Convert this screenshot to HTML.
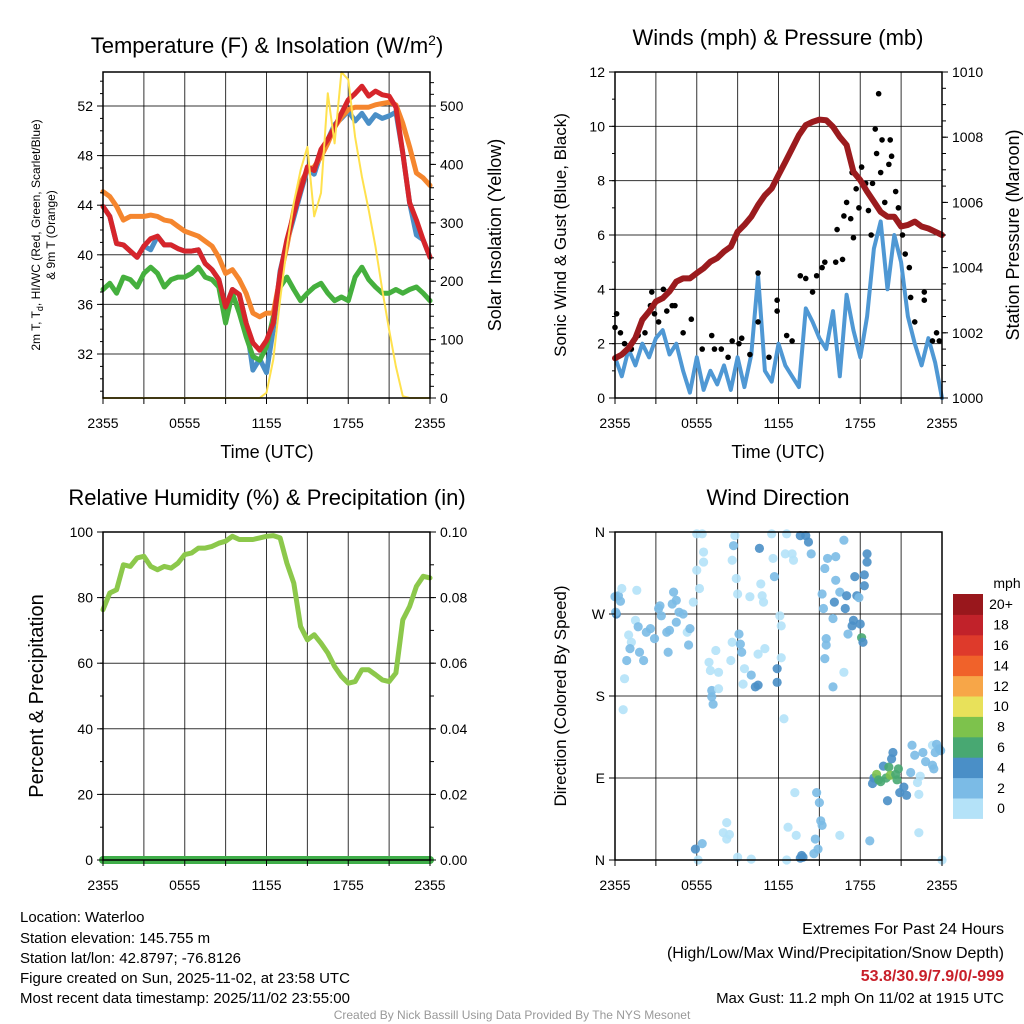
<!DOCTYPE html>
<html><head><meta charset="utf-8"><style>
html,body{margin:0;padding:0;background:#fff;}
svg{display:block;font-family:"Liberation Sans",sans-serif;}
</style></head><body>
<svg id="chart" width="1024" height="1024" viewBox="0 0 1024 1024" xmlns="http://www.w3.org/2000/svg">
<rect width="1024" height="1024" fill="#fff"/>
<g id="layer"></g>
<text x="267" y="53" font-size="22" text-anchor="middle">Temperature (F) &amp; Insolation (W/m<tspan dy="-8" font-size="14">2</tspan><tspan dy="8">)</tspan></text>
<text x="778" y="45" font-size="22" text-anchor="middle">Winds (mph) &amp; Pressure (mb)</text>
<text x="267" y="505" font-size="22" text-anchor="middle">Relative Humidity (%) &amp; Precipitation (in)</text>
<text x="778" y="505" font-size="22" text-anchor="middle">Wind Direction</text>
<text x="267" y="458" font-size="18" text-anchor="middle">Time (UTC)</text>
<text x="778" y="458" font-size="18" text-anchor="middle">Time (UTC)</text>
<text transform="translate(40,235) rotate(-90)" font-size="12" text-anchor="middle">2m T, T<tspan dy="3" font-size="9">d</tspan><tspan dy="-3">, HI/WC (Red, Green, Scarlet/Blue)</tspan></text>
<text transform="translate(55,235) rotate(-90)" font-size="12" text-anchor="middle">&amp; 9m T (Orange)</text>
<text transform="translate(501,235) rotate(-90)" font-size="18" text-anchor="middle">Solar Insolation (Yellow)</text>
<text transform="translate(566,235) rotate(-90)" font-size="17" text-anchor="middle">Sonic Wind &amp; Gust (Blue, Black)</text>
<text transform="translate(1019,235) rotate(-90)" font-size="18" text-anchor="middle">Station Pressure (Maroon)</text>
<text transform="translate(43,696) rotate(-90)" font-size="20" text-anchor="middle">Percent &amp; Precipitation</text>
<text transform="translate(566,696) rotate(-90)" font-size="17" text-anchor="middle">Direction (Colored By Speed)</text>
<g font-size="15">
<text x="20" y="922">Location: Waterloo</text>
<text x="20" y="943">Station elevation: 145.755 m</text>
<text x="20" y="963">Station lat/lon: 42.8797; -76.8126</text>
<text x="20" y="983">Figure created on Sun, 2025-11-02, at 23:58 UTC</text>
<text x="20" y="1003">Most recent data timestamp: 2025/11/02 23:55:00</text>
</g>
<g text-anchor="end">
<text x="1004" y="934" font-size="16">Extremes For Past 24 Hours</text>
<text x="1004" y="958" font-size="16">(High/Low/Max Wind/Precipitation/Snow Depth)</text>
<text x="1004" y="981" font-size="16" font-weight="bold" fill="#c8202a">53.8/30.9/7.9/0/-999</text>
<text x="1004" y="1003" font-size="15">Max Gust: 11.2 mph On 11/02 at 1915 UTC</text>
</g>
<text x="512" y="1019" font-size="12" fill="#999" text-anchor="middle">Created By Nick Bassill Using Data Provided By The NYS Mesonet</text>
</svg>
<script>
const xTickLabels = ["2355","0555","1155","1755","2355"];
const tempTicks = [32,36,40,44,48,52];
const solarTicks = [0,100,200,300,400,500];
const windTicks = [0,2,4,6,8,10,12];
const presTicks = [1000,1002,1004,1006,1008,1010];
const rhTicks = [0,20,40,60,80,100];
const precipTicks = ["0.00","0.02","0.04","0.06","0.08","0.10"];
const dirLabels = ["N","E","S","W","N"];
const dirTickVals = [0,90,180,270,360];

const temp2m = [43.9,43.1,40.9,40.8,40.3,39.8,40.7,41.3,41.5,40.8,40.8,40.5,40.3,40.3,40.4,39.3,38.8,38.0,35.8,37.2,36.8,34.5,32.9,32.3,33.1,34.5,38.5,41.2,43.3,45.2,47.1,46.8,48.5,49.3,50.3,51.4,52.5,53.0,53.6,52.8,53.2,52.9,52.8,51.9,48.2,44.2,42.8,41.2,39.8];
const temp9m = [45.1,44.7,43.9,42.8,43.1,43.1,43.1,43.2,43.1,42.8,42.7,42.3,41.9,41.7,41.5,41.1,40.7,39.8,38.5,38.8,38.0,36.9,35.3,35.0,35.3,35.3,38.2,40.7,43.6,45.8,46.8,47.1,47.9,49.0,50.3,51.1,51.7,51.9,51.9,51.9,52.1,52.2,52.3,52.1,50.6,48.7,46.6,46.2,45.6];
const dewpoint = [37.2,37.7,36.9,38.2,38.0,37.4,38.5,39.0,38.5,37.4,38.0,38.2,38.2,38.5,39.0,38.2,38.0,37.4,34.5,36.9,35.3,33.4,31.8,31.5,32.6,35.0,37.4,38.2,37.2,36.3,36.9,37.4,37.7,36.9,36.3,36.6,36.3,38.2,39.0,38.0,37.4,36.9,36.9,37.2,36.9,37.2,37.4,36.9,36.3];
const heatIndex = [43.9,43.1,40.9,40.8,40.3,39.8,40.7,40.4,41.5,40.8,40.8,40.5,40.3,40.3,40.4,39.3,38.8,38.0,35.8,37.2,36.8,34.5,30.7,31.6,30.5,34.0,38.7,41.0,43.0,45.0,46.9,46.5,48.2,49.3,50.5,51.0,51.6,50.8,51.4,50.6,51.3,51.0,51.2,51.5,48.2,44.2,41.6,41.2,39.8];
const solar = [0,0,0,0,0,0,0,0,0,0,0,0,0,0,0,0,0,0,0,0,0,0,0,0,9,66,168,259,334,390,430,311,351,522,436,558,545,447,379,322,259,185,117,54,3,0,0,0,0];
const sonicWind = [1.5,0.8,1.8,1.2,2.0,1.5,2.2,2.5,1.6,2.0,1.0,0.2,1.5,0.3,1.0,0.5,1.2,0.3,1.5,0.4,1.6,4.5,1.0,0.6,2.0,1.2,0.8,0.4,3.3,2.8,2.2,1.8,3.2,0.8,3.8,2.5,1.5,3.0,5.5,6.5,4.0,6.0,5.0,3.0,2.0,1.2,2.2,1.3,0.0];
const pressure = [1001.22,1001.33,1001.53,1001.84,1002.40,1002.65,1002.96,1003.06,1003.27,1003.57,1003.67,1003.67,1003.83,1003.98,1004.18,1004.29,1004.49,1004.64,1005.10,1005.31,1005.56,1005.92,1006.22,1006.43,1006.84,1007.24,1007.65,1008.06,1008.37,1008.47,1008.54,1008.52,1008.32,1008.01,1007.76,1006.94,1006.68,1006.33,1006.02,1005.71,1005.56,1005.56,1005.26,1005.31,1005.41,1005.26,1005.20,1005.10,1005.00];
const gustHour = [0,0.12,0.4,0.7,1.2,1.7,2.2,2.6,2.7,2.9,3.2,3.55,3.8,4.2,4.4,5.0,5.6,6.4,7.1,7.3,7.8,8.3,8.6,9.1,9.3,9.9,10.5,10.5,11.3,11.9,11.9,12.6,13.0,13.6,14.0,14.5,14.8,15.2,15.4,16.2,16.3,16.7,16.8,17.0,17.3,17.4,17.5,17.7,17.9,18.1,18.4,18.6,18.8,18.9,19.1,19.2,19.35,19.5,19.6,19.8,20.1,20.2,20.3,20.6,20.8,21.1,21.3,21.6,21.7,22.0,22.7,22.7,23.3,23.6,23.8];
const gustSpeed = [2.6,3.1,2.4,2.0,1.8,2.3,2.4,3.4,3.9,3.1,2.8,4.0,3.2,3.4,3.4,2.4,2.9,1.8,2.3,1.8,1.8,1.5,2.1,2.0,2.2,1.6,4.6,2.8,1.5,3.2,3.6,2.3,2.1,4.5,4.4,3.9,4.5,4.8,5.0,5.0,6.2,5.1,6.7,7.2,6.6,8.3,5.9,7.7,7.0,8.5,7.9,6.9,6.0,7.9,9.9,9.0,11.2,8.3,9.5,7.2,8.6,9.5,8.9,7.6,7.0,6.0,5.3,4.8,3.7,2.8,3.9,3.6,2.1,2.4,2.1];
const rh = [76.3,81.4,82.4,90.0,89.5,92.1,92.6,89.5,88.5,89.5,89.0,90.5,93.1,93.6,95.1,95.1,95.6,96.6,97.2,98.7,97.7,97.7,97.7,98.2,98.7,98.9,98.2,90.5,84.4,71.2,67.1,68.7,66.1,63.1,59.0,56.0,53.9,54.4,58.0,58.0,56.5,54.9,54.4,57.0,73.2,77.3,83.4,86.5,86.0];
const precip = [0,0,0,0,0,0,0,0,0,0,0,0,0,0,0,0,0,0,0,0,0,0,0,0,0,0,0,0,0,0,0,0,0,0,0,0,0,0,0,0,0,0,0,0,0,0,0,0,0];
const dirHour = [0,0.25,0.5,0.1,0.05,0.4,1.6,1.5,1.7,1.0,1.2,1.1,0.86,0.7,0.6,1.8,2.1,2.3,2.6,2.9,3.2,3.3,3.4,3.8,4.0,3.9,4.2,4.3,4.5,4.7,5.0,4.5,5.3,5.4,5.5,5.75,6.0,6.4,6.2,6.0,6.5,6.5,6.9,7.0,7.1,7.1,7.2,7.4,7.6,7.6,8.5,8.6,8.6,8.7,8.8,8.9,9.0,9.1,9.2,9.3,9.4,9.5,9.9,10.0,10.3,10.5,10.5,10.6,10.7,10.8,10.9,11.0,11.5,11.6,11.7,11.9,11.9,12.1,12.2,12.2,12.4,12.6,12.5,13.0,13.1,13.6,14.0,14.2,14.4,15.2,15.3,15.4,15.5,15.6,16.0,16.1,16.2,16.2,16.5,16.8,16.9,17.0,17.1,17.4,17.5,17.6,17.75,17.9,18.0,18.1,18.2,18.3,18.3,18.5,18.5,16.8,16.0,15.4,15.5,18.9,19.0,19.2,19.35,19.5,19.7,19.9,20.1,20.2,20.3,20.4,20.6,20.7,20.8,20.9,21.2,21.4,21.7,21.8,22.0,22.2,22.3,22.4,22.6,22.8,23.3,23.4,23.3,23.5,23.6,23.8,23.9,22.3,18.7,20.0,13.2,14.8,15.0,15.1,15.2,14.7,14.9,14.6,12.7,13.3,13.7,13.8,13.6,12.6,16.5,8.2,7.95,8.2,8.4,6.4,5.9,9.0,10.0,24,6.1];
const dirDeg = [289,290,298,270,272,284,296,263,256,247,239,232,219,199,165,228,219,250,254,243,276,279,268,250,252,228,281,294,285,272,270,261,250,236,254,283,358,358,298,318,327,338,217,208,186,179,171,230,206,188,219,239,329,345,356,309,292,248,237,228,193,210,289,203,190,192,226,342,303,290,283,232,358,331,311,210,195,268,257,222,155,358,336,336,329,356,356,349,336,292,276,320,243,331,265,283,307,333,294,351,276,290,248,257,263,311,290,288,259,244,239,313,301,327,336,206,190,221,236,84,90,94,88,86,103,90,102,93,111,118,94,88,100,74,80,71,96,126,115,85,72,92,118,108,104,100,126,118,127,122,120,30,21,65,74,74,63,43,38,23,12,7,36,27,5,3,2,0,27,41,30,23,28,18,12,3,1,0,0];
const dirSpeed = [3,3,1,5,3,3,1,1,3,1,1,3,3,1,1,3,3,3,3,3,3,3,3,3,3,3,3,3,3,3,3,3,1,3,3,1,1,1,1,1,1,1,1,1,3,3,3,1,1,1,1,1,1,3,1,1,1,3,3,3,1,1,1,3,5,5,1,5,1,1,1,1,1,1,3,5,5,1,1,1,1,1,1,1,1,5,5,5,3,3,3,3,3,3,3,5,3,3,3,3,5,5,3,5,5,5,5,3,5,7,5,5,5,5,5,1,3,3,3,5,5,9,7,7,5,7,7,9,5,5,7,7,7,5,5,5,3,3,3,1,1,1,3,3,3,3,1,3,3,3,3,1,3,5,1,3,3,3,3,3,3,3,1,1,5,5,5,1,1,1,1,1,1,3,5,1,1,1,1];
const cbLabels = ["0","2","4","6","8","10","12","14","16","18","20+"];
const cbColors = ["#b4e2f8","#7bbbe6","#4a8fc7","#48a872","#7dc24c","#e8e15a","#f7a648","#f0622a","#de3a2b","#c1222a","#99171c"];

const NS = "http://www.w3.org/2000/svg";
const layer = document.getElementById('layer');
function mk(tag, attrs, parent){
  const e = document.createElementNS(NS, tag);
  for (const k in attrs) e.setAttribute(k, attrs[k]);
  (parent||layer).appendChild(e); return e;
}
function lin(d0,d1,r0,r1){ return v => r0 + (v-d0)/(d1-d0)*(r1-r0); }

function frame(L,R,T,B, name){
  const g = mk('g',{});
  
  
  return g;
}
function grid(g,L,R,T,B,xs,ys){
  xs.forEach(x=>mk('line',{x1:x,x2:x,y1:T,y2:B,stroke:'#000','stroke-width':1,'stroke-opacity':0.8},g));
  ys.forEach(y=>mk('line',{x1:L,x2:R,y1:y,y2:y,stroke:'#000','stroke-width':1,'stroke-opacity':0.8},g));
}
function border(g,L,R,T,B){
  mk('rect',{x:L,y:T,width:R-L,height:B-T,fill:'none',stroke:'#000','stroke-width':1.5},g);
}
function xAxis(g,L,R,B){
  const xs = lin(0,24,L,R);
  for(let h=0;h<=24;h+=3){ mk('line',{x1:xs(h),x2:xs(h),y1:B,y2:B+6,stroke:'#000'},g); }
  xTickLabels.forEach((t,i)=>{
    const tx = mk('text',{x:xs(i*6),y:B+30,'font-size':14,'text-anchor':'middle'},g);
    
    
    tx.textContent=t;
  });
  return xs;
}
function yTicks(g, side, xEdge, ys, vals, labels, minorStep, dmin, dmax){
  vals.forEach((v,i)=>{
    const y = ys(v);
    if (side==='L'){ mk('line',{x1:xEdge-6,x2:xEdge,y1:y,y2:y,stroke:'#000'},g); }
    else { mk('line',{x1:xEdge,x2:xEdge+6,y1:y,y2:y,stroke:'#000'},g); }
    const tx = mk('text',{x: side==='L'? xEdge-10 : xEdge+10, y:y+5,'font-size':14,'text-anchor': side==='L'?'end':'start'},g);
    
    
    tx.textContent = labels[i];
  });
  if (minorStep){
    for (let v=Math.ceil(dmin/minorStep)*minorStep; v<=dmax; v+=minorStep){
      const y = ys(v);
      if (side==='L') mk('line',{x1:xEdge-3,x2:xEdge,y1:y,y2:y,stroke:'#000'},g);
      else mk('line',{x1:xEdge,x2:xEdge+4,y1:y,y2:y,stroke:'#000'},g);
    }
  }
}
function poly(g, xs, ys, arr, color, w, name, hours){
  const pts = arr.map((v,i)=> xs(hours? hours[i] : i*24/(arr.length-1)).toFixed(1)+','+ys(v).toFixed(1)).join(' ');
  const p = mk('polyline',{points:pts,fill:'none',stroke:color,'stroke-width':w,'stroke-linejoin':'round','stroke-linecap':'round'},g);
  
  
  return p;
}

// Panel 1: temperature
(function(){
  const L=103,R=430,T=72,B=398;
  const g = frame(L,R,T,B,'temperature-panel');
  const xs = lin(0,24,L,R);
  const yt = lin(32,52,354,106);
  const ys = lin(0,500,398,106);
  grid(g,L,R,T,B,[3,6,9,12,15,18,21].map(xs), tempTicks.map(yt));
  const cg = mk('g',{},g);
  
  
  poly(cg,xs,yt,heatIndex,'#4a8fc7',5,'heat-index-line');
  poly(cg,xs,yt,dewpoint,'#45b03e',5,'dewpoint-line');
  poly(cg,xs,yt,temp9m,'#f5862e',5,'temp-9m-line');
  poly(cg,xs,yt,temp2m,'#d6252b',5,'temp-2m-line');
  poly(cg,xs,ys,solar,'#ffe14d',2,'solar-line');
  border(g,L,R,T,B);
  xAxis(g,L,R,B);
  yTicks(g,'L',L,yt,tempTicks,tempTicks.map(String),1,29,54);
  yTicks(g,'R',R,ys,solarTicks,solarTicks.map(String),20,0,558);
})();

// Panel 2: winds
(function(){
  const L=615,R=942,T=72,B=398;
  const g = frame(L,R,T,B,'winds-panel');
  const xs = lin(0,24,L,R);
  const yw = lin(0,12,B,T);
  const yp = lin(1000,1010,B,T);
  grid(g,L,R,T,B,[3,6,9,12,15,18,21].map(xs), windTicks.map(yw));
  poly(g,xs,yw,sonicWind,'#4f98d4',4,'sonic-wind-line');
  gustHour.forEach((h,i)=>{
    const c = mk('circle',{cx:xs(h),cy:yw(gustSpeed[i]),r:2.8,fill:'#000'},g);
    
    
  });
  poly(g,xs,yp,pressure,'#9b1b1e',6,'pressure-line');
  border(g,L,R,T,B);
  xAxis(g,L,R,B);
  yTicks(g,'L',L,yw,windTicks,windTicks.map(String),1,0,12);
  yTicks(g,'R',R,yp,presTicks,presTicks.map(String),0.5,1000,1010);
})();

// Panel 3: RH
(function(){
  const L=103,R=430,T=532,B=860;
  const g = frame(L,R,T,B,'humidity-panel');
  const xs = lin(0,24,L,R);
  const yr = lin(0,100,B,T);
  const yq = lin(0,0.1,B,T);
  grid(g,L,R,T,B,[3,6,9,12,15,18,21].map(xs), rhTicks.map(yr));
  poly(g,xs,yr,rh,'#8cc84b',5,'rh-line');
  poly(g,xs,yq,precip,'#3fae49',8,'precip-line');
  border(g,L,R,T,B);
  xAxis(g,L,R,B);
  yTicks(g,'L',L,yr,rhTicks,rhTicks.map(String),10,0,100);
  yTicks(g,'R',R,yq,[0,0.02,0.04,0.06,0.08,0.1],precipTicks,0.01,0,0.1);
})();

// Panel 4: wind direction
(function(){
  const L=615,R=942,T=532,B=860;
  const g = frame(L,R,T,B,'wind-direction-panel');
  const xs = lin(0,24,L,R);
  const yd = lin(0,360,B,T);
  grid(g,L,R,T,B,[3,6,9,12,15,18,21].map(xs), dirTickVals.map(yd));
  dirHour.forEach((h,i)=>{
    const bin = Math.min(10, Math.floor(dirSpeed[i]/2));
    const c = mk('circle',{cx:xs(h),cy:yd(dirDeg[i]),r:4.6,fill:cbColors[bin],'fill-opacity':0.9},g);
    
    
  });
  border(g,L,R,T,B);
  xAxis(g,L,R,B);
  yTicks(g,'L',L,yd,dirTickVals,dirLabels,0,0,0);
  const cb = mk('g',{},layer);
  
  
  const top=594, h=20.4;
  cbColors.forEach((col,i)=>{
    const y = top + (10-i)*h;
    const r = mk('rect',{x:953,y:y,width:30,height:h+0.5,fill:col},cb);
    
    
    const t = mk('text',{x:1001,y:y+h/2+5,'font-size':14,'text-anchor':'middle'},cb);
    
    
    t.textContent = cbLabels[i];
  });
  const u = mk('text',{x:1007,y:588,'font-size':14,'text-anchor':'middle'},cb);
  
  
  u.textContent='mph';
})();
</script>
</body></html>
